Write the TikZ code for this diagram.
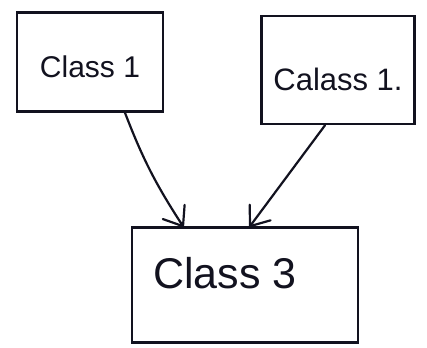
\documentclass[tikz,border=0pt]{standalone}
\usepackage{fontspec}
\setmainfont{Liberation Sans}
\usetikzlibrary{decorations.markings}
\definecolor{ink}{rgb}{0.07,0.07,0.12}
\begin{document}
\begin{tikzpicture}[x=1pt,y=-1pt]
  \tikzset{
    classbox/.style={draw=ink,line width=2.6pt,text=ink,inner sep=0pt},
    % open barb head drawn at the end of each connector
    link/.style={draw=ink,line width=2.2pt,line cap=round,
      postaction={decorate,decoration={markings,
        mark=at position 1 with {\draw[ink,line width=2.2pt,line cap=round,line join=round]
          (-17pt,13pt) -- (0pt,0pt) -- (-17pt,-13pt);}}}}}
  \useasboundingbox (0,0) rectangle (427,347);
  \node[classbox,minimum width=146pt,minimum height=99pt,text height=32pt,text depth=0pt,
    font=\fontsize{30}{36}\selectfont] (c1) at (90,62) {Class 1};
  \node[classbox,minimum width=153pt,minimum height=108pt,text height=42pt,text depth=0pt,
    font=\fontsize{31}{37}\selectfont] (c2) at (338,70) {Calass 1.};
  \node[classbox,minimum width=226pt,minimum height=115pt,text height=30pt,text depth=24pt,
    font=\fontsize{43}{52}\selectfont] (c3) at (245,285) {Class 3\hspace*{40pt}};
  \draw[link] ([xshift=35pt]c1.south) to[bend right=6] ([xshift=-62pt]c3.north);
  \draw[link] ([xshift=-13pt]c2.south) -- ([xshift=5pt]c3.north);
\end{tikzpicture}
\end{document}
